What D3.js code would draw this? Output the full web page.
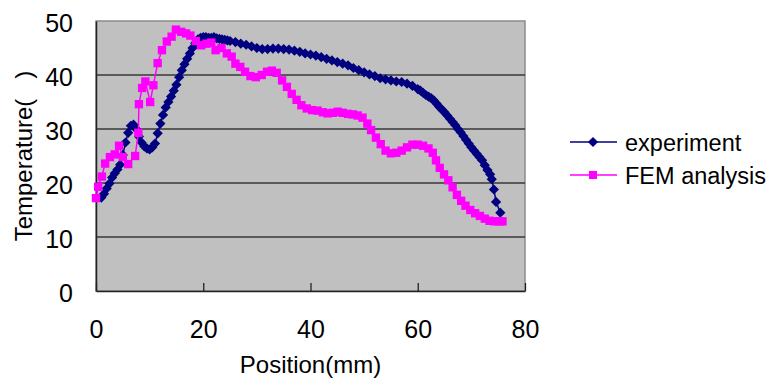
<!DOCTYPE html>
<html>
<head>
<meta charset="utf-8">
<script src="https://cdn.jsdelivr.net/npm/d3@7"></script>
<style>
  html, body { margin: 0; padding: 0; background: #fff; }
  svg text { font-family: "Liberation Sans", Arial, sans-serif; fill: #000; }
</style>
</head>
<body>
<svg id="chart" width="768" height="379"></svg>
<script>
// Measured temperature profile along the specimen
const expX = [1.0,1.5,2.0,2.5,3.0,3.5,4.0,4.5,5.0,5.5,6.0,6.5,7.0,7.5,8.0,8.5,9.0,9.5,10.0,10.5,
  11.0,11.5,12.0,12.5,13.0,13.5,14.0,14.5,15.0,15.5,16.0,16.5,17.0,17.5,18.0,18.5,19.0,19.5,20.0,20.5,
  21.0,21.5,22.0,22.5,23.0,23.5,24.0,24.5,25,26,27,28,29,30,31,32,33,34,35,36,37,38,39,40,41,42,43,44,
  45,46,47,48,49,50,51,52,53,54,55,56,57,58,59,60,60.5,61,61.5,62,62.5,63,63.5,64,64.5,65,65.5,66,
  66.5,67,67.5,68,68.5,69,69.5,70,70.5,71,71.5,72,72.5,73,73.5,73.8,74.2,74.6,75.4];
const expT = [17.3,18.0,19.0,19.9,21.0,21.8,22.5,23.4,25.2,27.5,29.3,30.6,30.8,30.0,28.6,27.5,26.8,26.4,26.2,26.6,
  27.3,29.2,31.0,32.6,34.0,35.0,36.0,37.1,38.2,39.6,40.9,42.0,43.0,44.0,45.0,45.9,46.6,46.9,47.0,47.0,
  46.9,46.9,47.0,46.8,46.7,46.6,46.5,46.4,46.3,46.1,45.8,45.6,45.3,45.0,44.8,44.8,44.9,44.9,44.8,44.7,44.5,44.3,44.0,43.8,43.6,43.3,43.0,42.7,
  42.4,42.1,41.8,41.3,40.9,40.5,40.1,39.8,39.4,39.2,39.0,38.8,38.7,38.4,38.0,37.4,37.1,36.7,36.3,36.0,35.7,35.3,34.7,34.1,33.6,33.1,32.5,31.9,
  31.3,30.7,30.0,29.4,28.7,28.0,27.3,26.6,26.0,25.4,24.8,24.2,23.3,22.4,21.6,20.7,18.8,16.5,14.5];

// FEM analysis result
const femX = [0.0,0.4,1.1,1.7,2.6,3.5,4.3,5.0,6.0,7.3,7.9,8.0,8.6,9.2,10.1,10.7,11.5,12.3,13.2,14.1,
  14.9,15.9,16.8,17.6,18.6,19.6,20.6,21.5,22.3,23.4,24.4,25.3,26.0,26.9,27.8,28.8,29.8,30.9,31.9,32.8,
  33.7,34.7,35.6,36.5,37.4,38.3,39.3,40.3,41.3,42.3,43.2,44.2,45.1,46.0,47.0,47.9,48.8,49.7,50.6,51.3,
  52.2,53.1,54.0,55.0,56.0,57.0,58.0,59.0,60.0,61.0,62.0,62.8,63.4,64.1,64.9,65.7,66.5,67.3,68.1,68.9,
  69.8,70.7,71.6,72.5,73.4,74.3,75.2,75.8];
const femT = [17.2,19.3,21.2,23.6,24.8,25.3,26.9,24.8,23.5,25.0,29.3,34.6,37.6,38.8,35.0,38.1,42.2,44.6,46.2,47.1,
  48.4,48.0,47.7,47.3,46.3,45.5,45.8,46.0,44.6,45.0,44.0,43.4,42.1,41.5,40.6,39.8,39.6,40.0,40.6,40.8,
  40.4,39.0,37.8,36.5,35.4,34.4,33.8,33.5,33.4,33.1,32.9,33.0,33.2,33.0,32.8,32.7,32.5,32.1,31.0,29.8,
  28.4,27.2,26.0,25.5,25.6,26.0,26.6,27.1,27.1,26.9,26.4,25.6,24.2,22.8,21.6,20.5,19.2,17.8,16.7,15.8,
  15.0,14.4,13.9,13.4,13.0,12.9,12.9,12.9];

const xTicks = [0, 20, 40, 60, 80];
const yTicks = [0, 10, 20, 30, 40, 50];
const seriesNames = ["experiment", "FEM analysis"];
const seriesColors = ["#000080", "#ff00ff"];

const svg = d3.select("#chart");
const plot = { left: 96, right: 525, top: 21, bottom: 291 };

const x = d3.scaleLinear().domain([0, 80]).range([plot.left, plot.right]);
const y = d3.scaleLinear().domain([0, 50]).range([plot.bottom, plot.top]);

// plot area background
svg.append("rect")
  .attr("x", plot.left).attr("y", plot.top)
  .attr("width", plot.right - plot.left).attr("height", plot.bottom - plot.top)
  .attr("fill", "#c0c0c0").attr("stroke", "#8c8c8c").attr("stroke-width", 1.5);

// horizontal gridlines
svg.append("g").selectAll("line")
  .data(yTicks.filter(v => v > 0 && v < 50))
  .join("line")
  .attr("x1", plot.left).attr("x2", plot.right)
  .attr("y1", d => y(d)).attr("y2", d => y(d))
  .attr("stroke", "#383838").attr("stroke-width", 1.3);

// x axis with inward ticks
const xAxis = svg.append("g")
  .attr("transform", `translate(0,${plot.bottom})`)
  .call(d3.axisBottom(x).tickValues(xTicks).tickSize(-8).tickPadding(29).tickSizeOuter(0));
xAxis.select(".domain").attr("stroke", "#222").attr("stroke-width", 1.5);
xAxis.selectAll(".tick line").attr("stroke", "#222").attr("stroke-width", 1.3);
xAxis.selectAll(".tick text").attr("font-size", 25).attr("font-family", "Liberation Sans, Arial, sans-serif").attr("fill", "#000");

// y axis
const yAxis = svg.append("g")
  .attr("transform", `translate(${plot.left},0)`)
  .call(d3.axisLeft(y).tickValues(yTicks).tickSize(0).tickPadding(23).tickSizeOuter(0));
yAxis.select(".domain").attr("stroke", "#222").attr("stroke-width", 1.5);
yAxis.selectAll(".tick text").attr("font-size", 25).attr("font-family", "Liberation Sans, Arial, sans-serif")
  .attr("fill", "#000").attr("dy", "0.42em");

// axis titles
svg.append("text")
  .attr("x", (plot.left + plot.right) / 2).attr("y", 373)
  .attr("text-anchor", "middle").attr("font-size", 24)
  .text("Position(mm)");
svg.append("text")
  .attr("transform", "translate(32,156) rotate(-90)")
  .attr("text-anchor", "middle").attr("font-size", 24)
  .text("Temperature(\u00a0\u00a0\u00a0)");

const diamond = d3.symbol().type(d3.symbolSquare).size(52);
const square = d3.symbol().type(d3.symbolSquare).size(70);

const expData = expX.map((v, i) => [v, expT[i]]);
const femData = femX.map((v, i) => [v, femT[i]]);
const line = d3.line().x(d => x(d[0])).y(d => y(d[1]));

// experiment series
svg.append("path").datum(expData)
  .attr("d", line).attr("fill", "none")
  .attr("stroke", seriesColors[0]).attr("stroke-width", 1.5);
svg.append("g").selectAll("path").data(expData).join("path")
  .attr("d", diamond)
  .attr("transform", d => `translate(${x(d[0])},${y(d[1])}) rotate(45)`)
  .attr("fill", seriesColors[0]);

// FEM series
svg.append("path").datum(femData)
  .attr("d", line).attr("fill", "none")
  .attr("stroke", seriesColors[1]).attr("stroke-width", 1.5);
svg.append("g").selectAll("path").data(femData).join("path")
  .attr("d", square)
  .attr("transform", d => `translate(${x(d[0])},${y(d[1])})`)
  .attr("fill", seriesColors[1]);

// legend
const legendRows = [142, 175];
const legendMarker = [d3.symbol().type(d3.symbolSquare).size(52), d3.symbol().type(d3.symbolSquare).size(64)];
const lg = svg.append("g");
seriesNames.forEach((name, i) => {
  const cy = legendRows[i];
  lg.append("line").attr("x1", 570).attr("x2", 617).attr("y1", cy).attr("y2", cy)
    .attr("stroke", seriesColors[i]).attr("stroke-width", 1.5);
  lg.append("path")
    .attr("d", legendMarker[i])
    .attr("transform", `translate(593,${cy})` + (i === 0 ? " rotate(45)" : ""))
    .attr("fill", seriesColors[i]);
  lg.append("text").attr("x", 625).attr("y", cy + 8.5)
    .attr("font-size", 23.5).text(name);
});
</script>
</body>
</html>
